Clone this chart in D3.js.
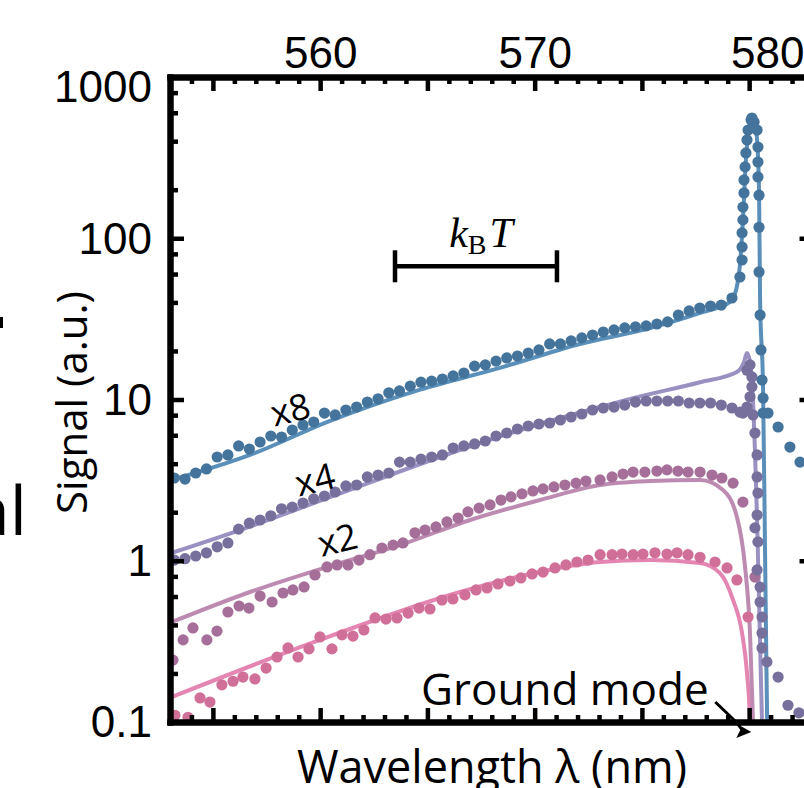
<!DOCTYPE html>
<html>
<head>
<meta charset="utf-8">
<script src="https://cdn.jsdelivr.net/npm/d3@7"></script>
<style>
  body { margin: 0; background: #fff; }
  svg { display: block; overflow: hidden; }
  .tick-lbl text { font-family: "Liberation Sans", Arial, sans-serif; }
</style>
</head>
<body>
<div id="chart"></div>
<script>
// ---- data (wavelength nm, signal a.u.) ----
let wl8 = [553.2, 553.7, 554.2, 554.7, 555.2, 555.7, 556.2, 556.7, 557.2, 557.7, 558.2, 558.7, 559.2, 559.7, 560.2, 560.7, 561.2, 561.7, 562.2, 562.7, 563.2, 563.7, 564.2, 564.7, 565.2, 565.7, 566.2, 566.7, 567.2, 567.7, 568.2, 568.7, 569.2, 569.7, 570.2, 570.7, 571.2, 571.7, 572.2, 572.7, 573.2, 573.7, 574.2, 574.7, 575.2, 575.7, 576.2, 576.7, 577.2, 577.7, 578.2, 578.7, 579.2,
  579.57, 579.67, 579.67, 579.67, 579.71, 579.71, 579.76, 579.76, 579.81, 579.85, 579.9, 579.95, 580.09, 580.13, 580.23, 580.37, 580.41, 580.41, 580.41, 580.46, 580.46, 580.46, 580.51, 580.55, 580.6, 580.65, 580.65, 580.88, 581.35, 581.9, 582.37]
let sig8 = [3.26, 3.21, 3.5, 3.71, 4.4, 4.53, 5.15, 4.93, 5.45, 5.94, 5.85, 6.47, 6.95, 7.25, 8.24, 8.02, 8.61, 8.98, 9.64, 10.1, 11.0, 11.3, 12.1, 12.8, 13.0, 13.4, 14.0, 14.6, 16.1, 16.4, 17.3, 18.1, 18.6, 19.4, 20.3, 22.1, 22.1, 23.1, 24.1, 25.1, 26.2, 27.0, 27.8, 28.2, 28.6, 29.4, 30.3, 33.4, 35.4, 36.9, 38.0, 38.5, 42.6,
  57.5, 73.3, 88.3, 108, 130, 156, 191, 230, 277, 338, 407, 469, 541, 557, 526, 469, 368, 297, 240, 185, 117, 61.8, 33.4, 20.3, 13.2, 10.2, 8.24, 8.24, 6.75, 5.07, 4.09]

let wl4 = [553.2, 553.7, 554.2, 554.7, 555.2, 555.7, 556.2, 556.7, 557.2, 557.7, 558.2, 558.7, 559.2, 559.7, 560.2, 560.7, 561.2, 561.7, 562.2, 562.7, 563.2, 563.7, 564.2, 564.7, 565.2, 565.7, 566.2, 566.7, 567.2, 567.7, 568.2, 568.7, 569.2, 569.7, 570.2, 570.7, 571.2, 571.7, 572.2, 572.7, 573.2, 573.7, 574.2, 574.7, 575.2, 575.7, 576.2, 576.7, 577.2, 577.7, 578.2, 578.7, 579.2,
  579.57, 579.71, 579.9, 579.9, 580.04, 580.13, 580.13, 580.04, 580.18, 580.27, 580.37, 580.37, 580.41, 580.37, 580.27, 580.41, 580.37, 580.51, 580.51, 580.6, 580.6, 580.6, 580.83, 581.35, 581.81, 582.32]
let sig4 = [1.01, 1.03, 1.07, 1.12, 1.22, 1.29, 1.57, 1.71, 1.79, 1.9, 2.1, 2.15, 2.28, 2.42, 2.52, 2.67, 2.91, 2.95, 3.31, 3.4, 3.5, 4.09, 4.09, 4.27, 4.4, 4.53, 5.0, 5.15, 5.3, 5.53, 5.94, 6.2, 6.56, 6.85, 7.05, 7.15, 7.46, 7.79, 8.13, 8.61, 8.86, 8.98, 9.24, 9.64, 9.79, 9.79, 9.79, 9.79, 9.51, 9.51, 9.51, 9.24, 8.86,
  8.36, 8.24, 8.98, 15.2, 16.4, 13.8, 12.0, 10.4, 8.02, 6.2, 4.53, 3.31, 2.63, 1.92, 1.6, 1.31, 0.877, 0.687, 0.555, 0.448, 0.356, 0.288, 0.236, 0.19, 0.127, 0.114]

let wl2 = [553.14, 553.61, 554.07, 554.72, 555.19, 555.7, 556.22, 556.68, 557.2, 557.76, 558.27, 558.73, 559.25, 559.76, 560.32, 560.79, 561.3, 561.81, 562.32, 562.88, 563.4, 563.86, 564.42, 564.89, 565.4, 565.91, 566.43, 566.89, 567.41, 567.92, 568.43, 568.9, 569.41, 569.92, 570.39, 570.9, 571.41, 571.93, 572.39, 573.05, 573.61, 574.12, 574.59, 575.14, 575.7, 576.17, 576.68, 577.15, 577.71, 578.27, 578.73, 579.25, 579.71, 580.27]
let sig2 = [0.242, 0.323, 0.383, 0.323, 0.366, 0.481, 0.524, 0.509, 0.604, 0.555, 0.631, 0.659, 0.688, 0.816, 0.915, 0.942, 0.942, 1.01, 1.09, 1.2, 1.25, 1.29, 1.49, 1.55, 1.62, 1.74, 1.84, 2.01, 2.12, 2.22, 2.38, 2.49, 2.6, 2.71, 2.79, 2.87, 2.95, 3.03, 3.12, 3.17, 3.31, 3.45, 3.55, 3.55, 3.6, 3.66, 3.6, 3.55, 3.55, 3.4, 3.26, 3.03, 2.31, 0.792]

let wl1 = [553.23, 553.84, 554.4, 554.86, 555.42, 555.94, 556.4, 556.96, 557.48, 557.99, 558.5, 558.97, 559.48, 559.99, 560.55, 561.02, 561.53, 562.04, 562.56, 563.07, 563.58, 564.1, 564.61, 565.12, 565.68, 566.19, 566.75, 567.27, 567.78, 568.29, 568.85, 569.36, 569.88, 570.39, 570.95, 571.46, 571.97, 572.49, 573.05, 573.61, 574.07, 574.59, 575.05, 575.61, 576.17, 576.64, 577.15, 577.71, 578.41, 578.97, 579.43, 579.95]
let sig1 = [0.11, 0.107, 0.141, 0.133, 0.17, 0.179, 0.19, 0.185, 0.216, 0.253, 0.288, 0.253, 0.284, 0.337, 0.284, 0.347, 0.341, 0.372, 0.442, 0.435, 0.442, 0.474, 0.509, 0.502, 0.571, 0.579, 0.614, 0.659, 0.678, 0.718, 0.749, 0.782, 0.828, 0.851, 0.902, 0.942, 0.982, 1.01, 1.09, 1.09, 1.1, 1.09, 1.1, 1.12, 1.1, 1.12, 1.09, 1.05, 0.982, 0.902, 0.76, 0.448]

// fitted curves
let fitWl8 = [553.09, 556.73, 560.46, 564.66, 568.38, 572.11, 575.38, 577.71, 579.11, 579.39, 579.57, 579.71, 579.85, 579.99, 580.13, 580.27, 580.37, 580.46, 580.51, 580.65, 580.74, 580.79, 580.84, 580.86]
let fit8 = [3.17, 4.53, 7.36, 11.5, 15.7, 22.1, 27.7, 34.4, 40.3, 47.8, 68.2, 130, 306, 483, 549, 512, 407, 199, 41.4, 11.5, 1.17, 0.323, 0.1, 0.08]
let fitWl4 = [553.09, 556.26, 560.46, 565.59, 569.32, 573.05, 574.59, 577.71, 579.43, 579.76, 579.9, 580.04, 580.18, 580.27, 580.37, 580.46, 580.55, 580.6, 580.62]
let fit4 = [1.12, 1.55, 2.48, 4.4, 6.47, 8.98, 10.2, 12.8, 14.8, 17.1, 19.4, 17.1, 9.93, 4.86, 1.79, 0.571, 0.182, 0.1, 0.08]
let fitWl2 = [553.09, 556.73, 560.32, 563.72, 566.99, 570.25, 573.05, 575.38, 577.71, 578.78, 579.43, 579.81, 580.04, 580.18, 580.2]
let fit2 = [0.417, 0.64, 0.915, 1.25, 1.79, 2.38, 2.95, 3.12, 3.17, 2.75, 1.87, 0.915, 0.356, 0.1, 0.08]
let fitWl1 = [553.09, 559.99, 566.52, 569.78, 573.05, 575.38, 577.71, 578.64, 579.25, 579.67, 579.9, 580.04, 580.06]
let fit1 = [0.143, 0.323, 0.64, 0.828, 0.982, 1.01, 0.968, 0.839, 0.571, 0.356, 0.201, 0.1, 0.08]

let dotColors = ['#44749c', '#77709d', '#a66f99', '#d06f98']
let lineColors = ['#5a8fb9', '#9a90c2', '#bd8bb2', '#e486b1']
let seriesLabels = ['x8', 'x4', 'x2']
// where each multiplier label sits (wavelength, signal at its baseline)
let labelWl = [558.75, 559.9, 560.95]
let labelSig = [7.25, 2.67, 1.13]

let yTicksMajor = [0.1, 1, 10, 100, 1000]
let yTickLabels = ['0.1', '1', '10', '100', '1000']
let xTicksMajor = [555, 560, 565, 570, 575, 580]
let xTickLabels = [560, 570, 580]

let kbtRange = [563.49, 571.04]
let kbtLevel = 67
let groundLambda = 580.1

;(function() {
  let width = 804
  let height = 788
  let plotLeft = 170, plotTop = 77, plotBottom = 722, plotRight = 813.5

  let svg = d3.select('#chart')
    .append('svg')
    .attr('width', width)
    .attr('height', height)

  let x = d3.scaleLinear().domain([553, 583]).range([plotLeft, plotRight])
  let y = d3.scaleLog().domain([0.1, 1000]).range([plotBottom, plotTop])

  svg.append('clipPath').attr('id', 'plot')
    .append('rect')
    .attr('x', plotLeft).attr('y', plotTop)
    .attr('width', plotRight - plotLeft).attr('height', plotBottom - plotTop)

  let plot = svg.append('g').attr('clip-path', 'url(#plot)')

  let line = d3.line()
    .x(d => x(d[0]))
    .y(d => y(d[1]))
    .curve(d3.curveMonotoneX)

  let fits = [[fitWl8, fit8], [fitWl4, fit4], [fitWl2, fit2], [fitWl1, fit1]]
  let dots = [[wl8, sig8], [wl4, sig4], [wl2, sig2], [wl1, sig1]]

  // lines under the dots, bottom series first
  for (let i = 3; i >= 0; i--) {
    let pts = fits[i][0].map((w, j) => [w, fits[i][1][j]])
    plot.append('path')
      .datum(pts)
      .attr('d', line)
      .attr('fill', 'none')
      .attr('stroke', lineColors[i])
      .attr('stroke-width', 4)
  }
  for (let i = 3; i >= 0; i--) {
    let pts = dots[i][0].map((w, j) => [w, dots[i][1][j]])
    plot.append('g')
      .selectAll('circle')
      .data(pts)
      .enter()
      .append('circle')
      .attr('cx', d => x(d[0]))
      .attr('cy', d => y(d[1]))
      .attr('r', 5.6)
      .attr('fill', dotColors[i])
  }

  // ---- axes ----
  function styleAxis(g, w) {
    g.select('.domain').attr('stroke-width', 6).attr('stroke-linecap', 'square')
    g.selectAll('.tick line').attr('stroke-width', w)
  }

  let yMinor = []
  ;[0.1, 1, 10, 100].forEach(d => [2, 4, 6, 8].forEach(m => yMinor.push(d * m)))
  let xMinor = d3.range(553, 584, 1).filter(d => d % 5 !== 0)

  // left
  svg.append('g').attr('transform', `translate(${plotLeft},0)`)
    .call(d3.axisLeft(y).tickValues(yMinor).tickSize(-8).tickSizeOuter(0).tickFormat(''))
    .call(g => styleAxis(g, 4.5))
  let yl = svg.append('g').attr('class', 'tick-lbl').attr('transform', `translate(${plotLeft},0)`)
    .call(d3.axisLeft(y).tickValues(yTicksMajor).tickSize(-14).tickSizeOuter(0).tickPadding(18)
      .tickFormat((d, i) => yTickLabels[i]))
    .call(g => styleAxis(g, 4.5))
  yl.selectAll('text').attr('font-size', 44).attr('fill', '#000')
    .attr('dy', d => d === 1000 ? '0.55em' : '0.34em')

  // right
  svg.append('g').attr('transform', `translate(${plotRight},0)`)
    .call(d3.axisRight(y).tickValues(yMinor).tickSize(-8).tickSizeOuter(0).tickFormat(''))
    .call(g => styleAxis(g, 4.5))
  svg.append('g').attr('transform', `translate(${plotRight},0)`)
    .call(d3.axisRight(y).tickValues(yTicksMajor).tickSize(-14).tickSizeOuter(0).tickFormat(''))
    .call(g => styleAxis(g, 4.5))

  // top
  svg.append('g').attr('transform', `translate(0,${plotTop})`)
    .call(d3.axisTop(x).tickValues(xMinor).tickSize(-7).tickSizeOuter(0).tickFormat(''))
    .call(g => styleAxis(g, 4.5))
  let xt = svg.append('g').attr('class', 'tick-lbl').attr('transform', `translate(0,${plotTop})`)
    .call(d3.axisTop(x).tickValues(xTicksMajor).tickSize(-14).tickSizeOuter(0).tickPadding(9)
      .tickFormat(d => xTickLabels.includes(d) ? d : ''))
    .call(g => styleAxis(g, 4.5))
  xt.selectAll('text').attr('font-size', 44).attr('fill', '#000')
    .attr('dx', d => d === 580 ? 18 : 0)

  // bottom
  svg.append('g').attr('transform', `translate(0,${plotBottom})`)
    .call(d3.axisBottom(x).tickValues(xMinor).tickSize(-7).tickSizeOuter(0).tickFormat(''))
    .call(g => styleAxis(g, 4.5))
  svg.append('g').attr('transform', `translate(0,${plotBottom})`)
    .call(d3.axisBottom(x).tickValues(xTicksMajor).tickSize(-14).tickSizeOuter(0).tickFormat(''))
    .call(g => styleAxis(g, 4.5))

  // ---- titles ----
  let font = '"Open Sans", "Noto Sans", sans-serif'
  svg.append('text')
    .attr('transform', `translate(87,${(plotTop + plotBottom) / 2 + 3}) rotate(-90)`)
    .attr('text-anchor', 'middle')
    .attr('font-family', font).attr('font-size', 42)
    .text('Signal (a.u.)')

  // the figure is cropped just under this title
  svg.append('text')
    .attr('x', 492).attr('y', 783)
    .attr('text-anchor', 'middle')
    .attr('font-family', font).attr('font-size', 45)
    .text('Wavelength λ (nm)')

  // fragments of the neighbouring panel
  svg.append('text')
    .attr('x', 27).attr('y', 535)
    .attr('text-anchor', 'end')
    .attr('font-family', font).attr('font-size', 68)
    .text('al')
  svg.append('rect').attr('x', 0).attr('y', 317).attr('width', 3).attr('height', 11)

  // ---- annotations ----
  seriesLabels.forEach((t, i) => {
    svg.append('text')
      .attr('transform', `translate(${x(labelWl[i])},${y(labelSig[i])}) rotate(-14)`)
      .attr('text-anchor', 'middle')
      .attr('font-family', font).attr('font-size', 36)
      .text(t)
  })

  // kBT scale bar
  let kb = svg.append('g').attr('stroke', '#000').attr('stroke-width', 4.5)
  kb.append('line')
    .attr('x1', x(kbtRange[0])).attr('x2', x(kbtRange[1]))
    .attr('y1', y(kbtLevel)).attr('y2', y(kbtLevel))
  kbtRange.forEach(w => {
    kb.append('line')
      .attr('x1', x(w)).attr('x2', x(w))
      .attr('y1', y(kbtLevel) - 16).attr('y2', y(kbtLevel) + 16)
  })
  let kt = svg.append('text')
    .attr('x', (x(kbtRange[0]) + x(kbtRange[1])) / 2 + 5)
    .attr('y', y(kbtLevel) - 19)
    .attr('text-anchor', 'middle')
    .attr('font-family', '"Liberation Serif", "DejaVu Serif", serif')
    .attr('font-size', 42)
  kt.append('tspan').attr('font-style', 'italic').text('k')
  kt.append('tspan').attr('font-size', 28).attr('dy', 7).text('B')
  kt.append('tspan').attr('font-style', 'italic').attr('dy', -7).attr('dx', 3).text('T')

  // ground mode
  svg.append('text')
    .attr('x', 421).attr('y', 705)
    .attr('font-family', font).attr('font-size', 44)
    .text('Ground mode')
  let gx = x(groundLambda)
  svg.append('path')
    .attr('d', `M${gx - 36},702 L${gx - 11},726`)
    .attr('stroke', '#000').attr('stroke-width', 3).attr('fill', 'none')
  svg.append('path')
    .attr('d', `M${gx},732 L${gx - 16},723 L${gx - 11},730 L${gx - 15},738 Z`)
    .attr('fill', '#000')
})()
</script>
</body>
</html>
